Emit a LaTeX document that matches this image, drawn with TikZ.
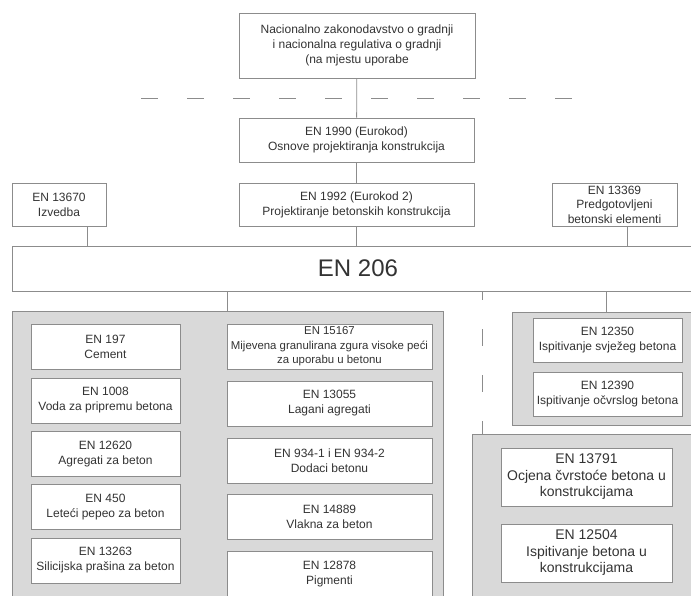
\documentclass[tikz,border=0pt]{standalone}
\usepackage{fontspec}
\setmainfont{Liberation Sans}
\usetikzlibrary{positioning}

\definecolor{linegray}{HTML}{8C8C8C}
\definecolor{panelgray}{HTML}{D9D9D9}
\definecolor{textgray}{HTML}{333333}

\begin{document}
\begin{tikzpicture}[x=1pt, y=-1pt,
  box/.style={draw=linegray, fill=white, line width=0.8pt, align=center,
    inner sep=0pt, text=textgray, font=\fontsize{12}{15}\selectfont},
  bigbox/.style={box, font=\fontsize{14}{16.5}\selectfont},
  panel/.style={draw=linegray, fill=panelgray, line width=0.8pt, inner sep=0pt},
  link/.style={draw=linegray, line width=0.8pt}]
  \useasboundingbox (0,0) rectangle (691,596);
  % ---- national level ----
  \node[box, minimum width=236pt, minimum height=65pt] (nat) at (357,45.5)
    {Nacionalno zakonodavstvo o gradnji\\i nacionalna regulativa o gradnji\\(na mjestu uporabe};
  \draw[link, dash pattern=on 17pt off 29pt] (141,98) -- (572,98);
  % ---- eurocodes ----
  \node[box, minimum width=235pt, minimum height=44pt] (en1990) at (356.5,140)
    {EN 1990 (Eurokod)\\Osnove projektiranja konstrukcija};
  \node[box, minimum width=235pt, minimum height=43pt] (en1992) at (356.5,204.5)
    {EN 1992 (Eurokod 2)\\Projektiranje betonskih konstrukcija};
  \node[box, minimum width=94pt, minimum height=43pt] (en13670) at (59,204.5)
    {EN 13670\\Izvedba};
  \node[box, minimum width=125pt, minimum height=43pt, font=\fontsize{12}{14.5}\selectfont] (en13369) at (614.5,204.5)
    {EN 13369\\Predgotovljeni\\betonski elementi};
  \node[box, minimum width=692pt, minimum height=45pt, font=\fontsize{24}{27}\selectfont] (en206) at (358,268.5)
    {EN 206};
  \draw[link] (nat) -- (en1990);
  \draw[link] (en1990) -- (en1992);
  \draw[link] (en1992) -- (en1992.south |- en206.north);
  \draw[link] ([xshift=28pt]en13670.south) -- ([xshift=28pt]en13670.south |- en206.north);
  \draw[link] ([xshift=12.5pt]en13369.south) -- ([xshift=12.5pt]en13369.south |- en206.north);
  % ---- constituents ----
  \node[panel, minimum width=431pt, minimum height=299pt] (matpanel) at (227.5,460.5) {};
  \foreach \y/\name/\txt in {346.5/en197/{EN 197\\Cement},
      400.5/en1008/{EN 1008\\Voda za pripremu betona},
      454/en12620/{EN 12620\\Agregati za beton},
      507/en450/{EN 450\\Leteći pepeo za beton},
      560.5/en13263/{EN 13263\\Silicijska prašina za beton}}
    \node[box, minimum width=149pt, minimum height=45pt] (\name) at (105.5,\y) {\txt};
  \node[box, minimum width=205pt, minimum height=45pt, font=\fontsize{11.4}{14.5}\selectfont] (en15167) at (329.5,346.5)
    {EN 15167\\Mijevena granulirana zgura visoke peći\\za uporabu u betonu};
  \foreach \y/\name/\txt in {403.5/en13055/{EN 13055\\Lagani agregati},
      460.5/en934/{EN 934-1 i EN 934-2\\Dodaci betonu},
      517/en14889/{EN 14889\\Vlakna za beton},
      574/en12878/{EN 12878\\Pigmenti}}
    \node[box, minimum width=205pt, minimum height=45pt] (\name) at (329.5,\y) {\txt};
  % ---- testing ----
  \node[panel, minimum width=188pt, minimum height=113pt] (testpanel) at (606,368.5) {};
  \node[box, minimum width=149pt, minimum height=44pt] (en12350) at (607.5,340)
    {EN 12350\\Ispitivanje svježeg betona};
  \node[box, minimum width=149pt, minimum height=44pt] (en12390) at (607.5,394)
    {EN 12390\\Ispitivanje očvrslog betona};
  \node[panel, minimum width=228pt, minimum height=176pt] (sitepanel) at (586,522) {};
  \node[bigbox, minimum width=171pt, minimum height=58pt] (en13791) at (586.5,477)
    {EN 13791\\Ocjena čvrstoće betona u\\konstrukcijama};
  \node[bigbox, minimum width=171pt, minimum height=58pt] (en12504) at (586.5,553)
    {EN 12504\\Ispitivanje betona u\\konstrukcijama};
  \draw[link] (matpanel.north |- en206.south) -- (matpanel.north);
  \draw[link] (testpanel.north |- en206.south) -- (testpanel.north);
  \draw[link, dash pattern=on 17pt off 29pt, dash phase=8pt]
    ([xshift=11pt]sitepanel.north west |- en206.south) -- ([xshift=11pt]sitepanel.north west);
\end{tikzpicture}
\end{document}
